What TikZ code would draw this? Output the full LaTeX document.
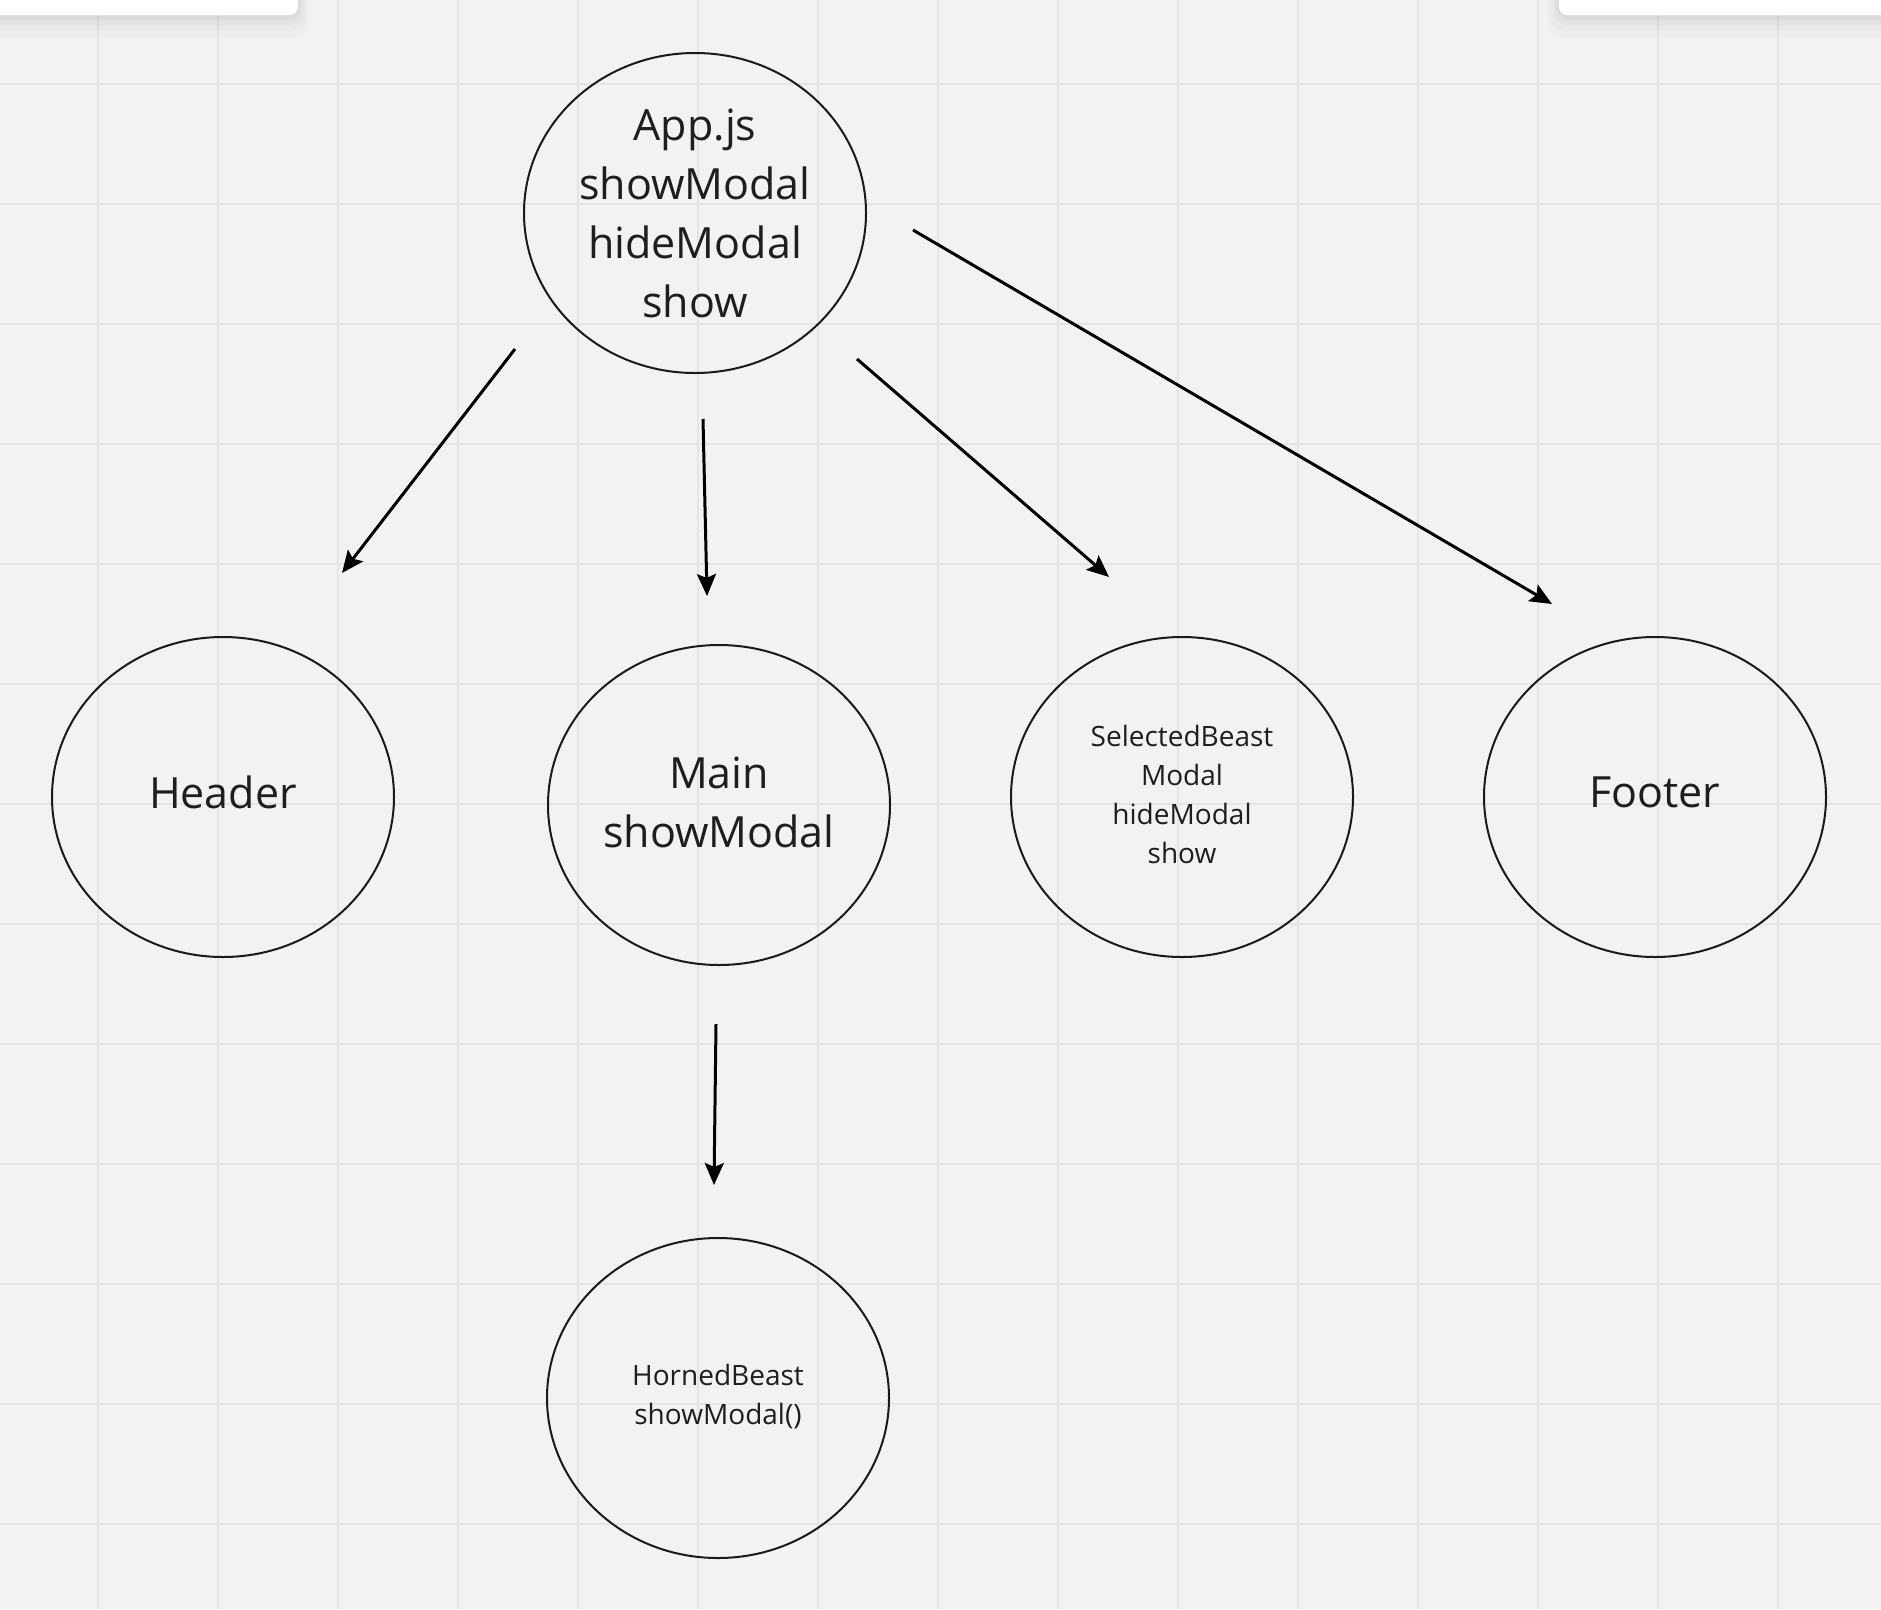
\documentclass[tikz,border=0pt]{standalone}
\usepackage{fontspec}
\setmainfont{Open Sans}
\usetikzlibrary{shapes.geometric,arrows.meta}
\definecolor{bg}{HTML}{F2F2F2}
\definecolor{gridc}{HTML}{E5E5E5}
\definecolor{txt}{HTML}{1E1E1E}
\definecolor{edge}{HTML}{1A1A1A}
\begin{document}
\begin{tikzpicture}[x=1pt,y=-1pt,
  bubble/.style={ellipse,draw=edge,line width=2pt,minimum width=342pt,minimum height=320pt,inner sep=0pt},
  bigtxt/.style={font=\fontsize{43}{59}\selectfont,align=center,text=txt,inner sep=0pt},
  smalltxt/.style={font=\fontsize{28}{39}\selectfont,align=center,text=txt,inner sep=0pt},
  conn/.style={draw=black,line width=3pt,-{Stealth[length=22pt,width=19pt,inset=4pt]}},
  panel/.style={fill=white,rounded corners=8pt}]
\useasboundingbox (0,0) rectangle (1881,1609);
\fill[bg] (0,0) rectangle (1881,1609);
\foreach \x in {98,218,...,1900} \draw[gridc,line width=1.6pt] (\x,0) -- (\x,1609);
\foreach \y in {84,204,...,1650} \draw[gridc,line width=1.6pt] (0,\y) -- (1881,\y);
% top panels with soft shadow
\foreach \d/\o in {22/0.015,16/0.02,10/0.025,5/0.03} {
  \fill[black,opacity=\o,rounded corners=12pt] (-30,-30) rectangle (298+\d*0.5,15+\d);
  \fill[black,opacity=\o,rounded corners=12pt] (1559-\d*0.5,-30) rectangle (1911,15+\d);
}
\fill[panel] (-30,-30) rectangle (298,15);
\fill[panel] (1559,-30) rectangle (1911,15);
% nodes
\node[bubble] (app) at (695,213) {};
\node[bubble] (header) at (223,797) {};
\node[bubble] (main) at (719,805) {};
\node[bubble] (sel) at (1182,797) {};
\node[bubble] (footer) at (1655,797) {};
\node[bubble] (horned) at (718,1398) {};
\node[bigtxt] (apptxt) at (695,213) {App.js\\showModal\\hideModal\\show};
\node[bigtxt] (headertxt) at (223,792) {Header};
\node[bigtxt] (maintxt) at (719,802) {Main\\showModal};
\node[smalltxt] (seltxt) at (1182,794) {SelectedBeast\\Modal\\hideModal\\show};
\node[bigtxt] (footertxt) at (1655,792) {Footer};
\node[smalltxt] (hornedtxt) at (718,1397) {HornedBeast\\showModal()};
% connector ends
\coordinate (h0) at (515,349);  \coordinate (h1) at (342,573);
\coordinate (m0) at (703,419);  \coordinate (m1) at (707,596);
\coordinate (s0) at (857,359);  \coordinate (s1) at (1109,577);
\coordinate (f0) at (913,230);  \coordinate (f1) at (1552,604);
\coordinate (b0) at (716,1024); \coordinate (b1) at (714,1185);
\draw[conn] (h0) -- (h1);
\draw[conn] (m0) -- (m1);
\draw[conn] (s0) -- (s1);
\draw[conn] (f0) -- (f1);
\draw[conn] (b0) -- (b1);
\end{tikzpicture}
\end{document}
